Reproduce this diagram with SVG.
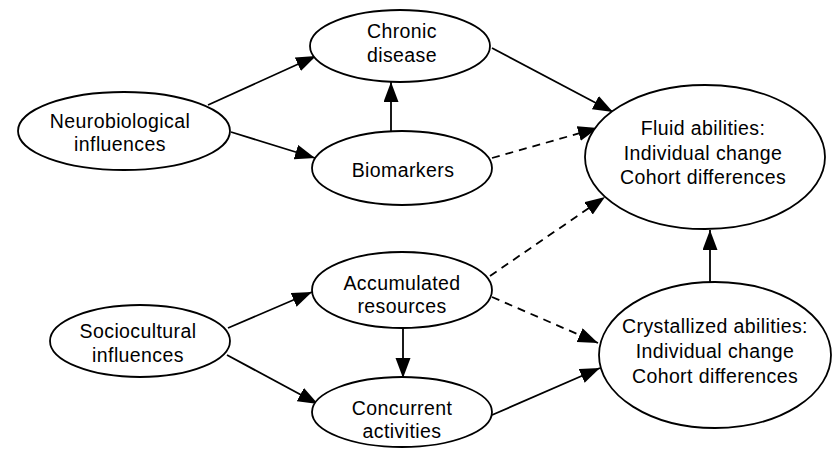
<svg xmlns="http://www.w3.org/2000/svg" width="833" height="451" viewBox="0 0 833 451">
<defs>
<marker id="ah" markerUnits="userSpaceOnUse" markerWidth="21" markerHeight="16" refX="20" refY="7.5" orient="auto">
<path d="M0,0 L20,7.5 L0,15 z" fill="#000"/>
</marker>
<style>
.n ellipse{fill:#fff;stroke:#000;stroke-width:1.8}
.n text{font-family:"Liberation Sans",Arial,sans-serif;font-size:19.5px;letter-spacing:0.4px;text-anchor:middle;fill:#000}
.c line{stroke:#000;stroke-width:1.8;marker-end:url(#ah)}
.c .d{stroke-dasharray:8 6}
</style>
</defs>
<rect width="833" height="451" fill="#fff"/>
<g class="c" id="connectors">
<line x1="208" y1="105" x2="316" y2="56"/>
<line x1="231" y1="132" x2="315" y2="158"/>
<line x1="391" y1="131" x2="391" y2="82"/>
<line x1="492" y1="48" x2="613" y2="112"/>
<line class="d" x1="492" y1="158" x2="598" y2="128"/>
<line class="d" x1="490" y1="276" x2="605" y2="197"/>
<line class="d" x1="492" y1="297" x2="598" y2="343"/>
<line x1="492" y1="415" x2="600" y2="368"/>
<line x1="710" y1="283" x2="710" y2="230"/>
<line x1="403" y1="328" x2="403" y2="378"/>
<line x1="228" y1="328" x2="312" y2="292"/>
<line x1="227" y1="355" x2="318" y2="404"/>
</g>
<g class="n" id="neuro">
<ellipse cx="124" cy="131" rx="106" ry="39"/>
<text x="120" y="128">Neurobiological</text>
<text x="120" y="151">influences</text>
</g>
<g class="n" id="chronic">
<ellipse cx="400" cy="46" rx="90" ry="36"/>
<text x="402" y="38">Chronic</text>
<text x="402" y="62">disease</text>
</g>
<g class="n" id="biomarkers">
<ellipse cx="402" cy="168" rx="90" ry="37"/>
<text x="403" y="177">Biomarkers</text>
</g>
<g class="n" id="fluid">
<ellipse cx="705" cy="157" rx="120" ry="72"/>
<text x="703" y="135">Fluid abilities:</text>
<text x="703" y="160">Individual change</text>
<text x="703" y="184">Cohort differences</text>
</g>
<g class="n" id="socio">
<ellipse cx="140" cy="341" rx="90" ry="36"/>
<text x="138" y="338">Sociocultural</text>
<text x="138" y="362">influences</text>
</g>
<g class="n" id="accumulated">
<ellipse cx="402" cy="290" rx="90" ry="38"/>
<text x="402" y="290">Accumulated</text>
<text x="402" y="313">resources</text>
</g>
<g class="n" id="concurrent">
<ellipse cx="402" cy="412" rx="90" ry="35"/>
<text x="402" y="415">Concurrent</text>
<text x="402" y="438">activities</text>
</g>
<g class="n" id="crystallized">
<ellipse cx="715" cy="355" rx="116" ry="73"/>
<text x="715" y="333">Crystallized abilities:</text>
<text x="715" y="358">Individual change</text>
<text x="715" y="383">Cohort differences</text>
</g>
</svg>
